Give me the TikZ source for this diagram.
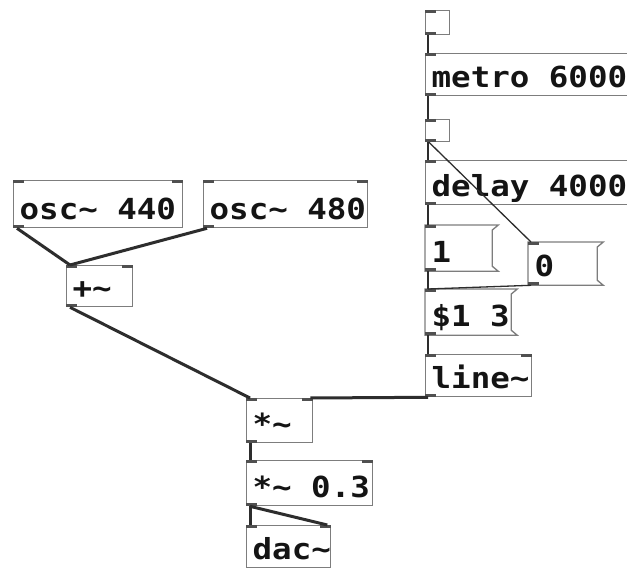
\documentclass[tikz,border=0pt]{standalone}
\usepackage{fontspec}
\newfontfamily\pdfont{DejaVu Sans Mono}[FakeStretch=1.12]
\definecolor{boxgray}{RGB}{125,125,125}
\definecolor{wirecol}{RGB}{45,45,45}
\definecolor{textcol}{RGB}{20,20,20}
\definecolor{portcol}{RGB}{80,80,80}
\newcommand\tld{\char"7E\relax}
\newcommand\psp{\hspace*{19.5pt}}
\begin{document}
\begin{tikzpicture}[x=1pt,y=-1pt,
  box/.style={draw=boxgray, line width=1.3pt, anchor=north west, inner xsep=6pt, inner ysep=0pt,
    align=left, text depth=8pt, font=\pdfont\bfseries\fontsize{29}{30}\selectfont, text=textcol},
  msg/.style={box, draw=none},
  msgline/.style={draw=boxgray, line width=1.3pt},
  tgl/.style={draw=boxgray, line width=1.3pt, anchor=north west, inner sep=0pt, minimum width=24pt, minimum height=24pt},
  sig/.style={draw=wirecol, line width=3pt},
  ctl/.style={draw=wirecol, line width=1.3pt},
  port/.style={fill=portcol, draw=none}]
\useasboundingbox (0,0) rectangle (627,569);
\clip (0,0) rectangle (627,569);
\fill[white] (0,0) rectangle (627,569);

% objects
\node[tgl] (t1) at (425,10) {};
\node[box, text width=208pt, text height=34pt] (metro) at (425,53) {metro\psp 6000};
\node[tgl, minimum height=22pt] (t2) at (425,119) {};
\node[box, text width=208pt, text height=36pt] (delay) at (425,160) {delay\psp 4000};
\node[msg, text width=60pt, text height=37pt] (m1) at (425,225) {1};
\node[msg, text width=62pt, text height=34pt] (m0) at (528,242) {0};
\node[msg, text width=79pt, text height=37pt] (m3) at (425,289) {\$1\psp 3};
\node[box, text width=94pt, text height=34pt] (line) at (425,354) {line\tld};
\node[box, text width=157pt, text height=39pt] (osca) at (13,180) {osc\tld\psp 440};
\node[box, text width=152pt, text height=39pt] (oscb) at (203,180) {osc\tld\psp 480};
\node[box, text width=54pt, text height=33pt] (plus) at (66,265) {+\tld};
\node[box, text width=54pt, text height=36pt] (times) at (246,398) {*\tld};
\node[box, text width=114pt, text height=37pt] (timesb) at (246,460) {*\tld\psp 0.3};
\node[box, text width=72pt, text height=34pt] (dac) at (246,525) {dac\tld};

% message box outlines
\foreach \m in {m1,m0,m3}{
  \draw[msgline] (\m.north west) -- (\m.north east) -- ([shift={(-6,5)}]\m.north east)
    -- ([shift={(-6,-5)}]\m.south east) -- (\m.south east) -- (\m.south west) -- cycle;
}

% inlets (top left)
\foreach \n in {t1,metro,t2,delay,m1,m0,m3,line,osca,oscb,plus,times,timesb,dac}{
  \fill[port] (\n.north west) rectangle ++(11,3);
}
% inlets (top right)
\foreach \n in {line,osca,oscb,plus,times,timesb,dac}{
  \fill[port] (\n.north east) rectangle ++(-11,3);
}
% outlets
\foreach \n in {t1,metro,t2,delay,m1,m0,m3,line,osca,oscb,plus,times,timesb}{
  \fill[port] (\n.south west) rectangle ++(11,-3);
}

% control connections
\draw[ctl] ([xshift=3pt]t1.south west) -- ([xshift=3pt]metro.north west);
\draw[ctl] ([xshift=3pt]metro.south west) -- ([xshift=3pt]t2.north west);
\draw[ctl] ([xshift=3pt]t2.south west) -- ([xshift=3pt]delay.north west);
\draw[ctl] ([xshift=4pt]t2.south west) -- ([xshift=3pt]m0.north west);
\draw[ctl] ([xshift=3pt]delay.south west) -- ([xshift=3pt]m1.north west);
\draw[ctl] ([xshift=3pt]m1.south west) -- ([xshift=3pt]m3.north west);
\draw[ctl] ([xshift=3pt]m0.south west) -- ([xshift=3pt]m3.north west);
\draw[ctl] ([xshift=3pt]m3.south west) -- ([xshift=3pt]line.north west);

% signal connections
\draw[sig] ([xshift=4pt]osca.south west) -- ([xshift=4pt]plus.north west);
\draw[sig] ([xshift=4pt]oscb.south west) -- ([xshift=4pt]plus.north west);
\draw[sig] ([xshift=4pt]plus.south west) -- ([xshift=4pt]times.north west);
\draw[sig] ([xshift=3pt]line.south west) -- ([xshift=-3pt]times.north east);
\draw[sig] ([xshift=4pt]times.south west) -- ([xshift=4pt]timesb.north west);
\draw[sig] ([xshift=4pt]timesb.south west) -- ([xshift=4pt]dac.north west);
\draw[sig] ([xshift=4pt]timesb.south west) -- ([xshift=-4pt]dac.north east);
\end{tikzpicture}
\end{document}
